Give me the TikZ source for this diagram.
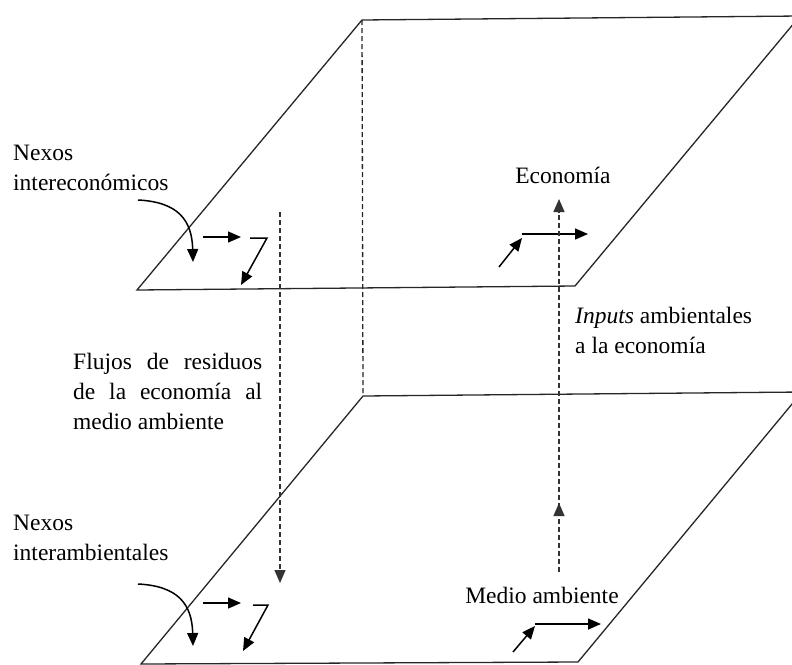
\documentclass[tikz,border=0pt]{standalone}
\usepackage{fontspec}
\setmainfont{Liberation Serif}
\usetikzlibrary{arrows.meta,positioning,decorations.markings}

\begin{document}
\begin{tikzpicture}[x=1pt,y=-1pt]
        \tikzset{
            plane/.style={line width=1.3pt,draw=black!85},
            link/.style={line width=1.5pt,-{Triangle[length=13pt,width=11pt]}},
            flow/.style={line width=1.4pt,draw=black!80,dash pattern=on 5pt off 3pt,-{Triangle[length=13pt,width=11pt]}},
            lbl/.style={inner sep=0pt,font=\fontsize{23.5}{30}\selectfont}
        }
        \useasboundingbox (0,0) rectangle (792,664);
        \clip (0,0) rectangle (792,664);
        % planos
        \coordinate (eTL) at (362,20);
        \coordinate (eTR) at (800,16);
        \coordinate (eBR) at (575,286);
        \coordinate (eBL) at (137,290);
        \coordinate (mTL) at (363,396);
        \coordinate (mTR) at (802,392);
        \coordinate (mBR) at (578,662);
        \coordinate (mBL) at (141,664);
        \draw[plane] (eTL) -- (eTR) -- (eBR) -- (eBL) -- cycle;
        \draw[plane] (mTL) -- (mTR) -- (mBR) -- (mBL) -- cycle;
        \draw[plane,dash pattern=on 5pt off 3pt] (eTL) -- (mTL);
        % textos
        \node[lbl,anchor=north west,align=left] (nexE) at (13,145) {Nexos\\intereconómicos};
        \node[lbl,anchor=north west,align=left] (nexM) at (13,515) {Nexos\\interambientales};
        \node[lbl,anchor=north west,align=left] (flujos) at (73,353)
            {\makebox[189pt][s]{Flujos de residuos}\\\makebox[189pt][s]{de la economía al}\\medio ambiente};
        \node[lbl,anchor=north west,align=left] (inputs) at (575,307) {\textit{Inputs} ambientales\\a la economía};
        \node[lbl,anchor=base] (econ) at (563,183) {Economía};
        \node[lbl,anchor=base] (medio) at (542,603) {Medio ambiente};
        % nexos intereconomicos
        \coordinate (cE0) at (138,200);
        \coordinate (cE1) at (193,262);
        \draw[link] (cE0) .. controls (178,202) and (192,220) .. (cE1);
        \coordinate (hE0) at (203,237);
        \coordinate (hE1) at (241,237);
        \draw[link] (hE0) -- (hE1);
        \coordinate (zE0) at (250,238);
        \coordinate (zE1) at (267,238);
        \coordinate (zE2) at (241,285);
        \draw[link] (zE0) -- (zE1) -- (zE2);
        % nexos interambientales
        \coordinate (cM0) at (138,584);
        \coordinate (cM1) at (193,646);
        \draw[link] (cM0) .. controls (178,586) and (192,604) .. (cM1);
        \coordinate (hM0) at (203,603);
        \coordinate (hM1) at (241,603);
        \draw[link] (hM0) -- (hM1);
        \coordinate (zM0) at (253,605);
        \coordinate (zM1) at (268,605);
        \coordinate (zM2) at (243,651);
        \draw[link] (zM0) -- (zM1) -- (zM2);
        % economia / medio ambiente
        \coordinate (dE0) at (499,267);
        \coordinate (dE1) at (522,238);
        \coordinate (rE1) at (588,234);
        \draw[link] (dE0) -- (dE1);
        \draw[link] (dE1 |- rE1) -- (rE1);
        \coordinate (dM0) at (513,652);
        \coordinate (dM1) at (535,626);
        \coordinate (rM1) at (601,624);
        \draw[link] (dM0) -- (dM1);
        \draw[link] (dM1 |- rM1) -- (rM1);
        % flujos verticales
        \coordinate (fl0) at (280,212);
        \coordinate (fl1) at (280,583);
        \draw[flow] (fl0) -- (fl1);
        \coordinate (in0) at (559,572);
        \coordinate (in1) at (559,199);
        \draw[flow,postaction={decorate},
            decoration={markings,mark=at position 0.185 with {\arrow{Triangle[length=13pt,width=11pt]}}}]
            (in0) -- (in1);
\end{tikzpicture}
\end{document}
